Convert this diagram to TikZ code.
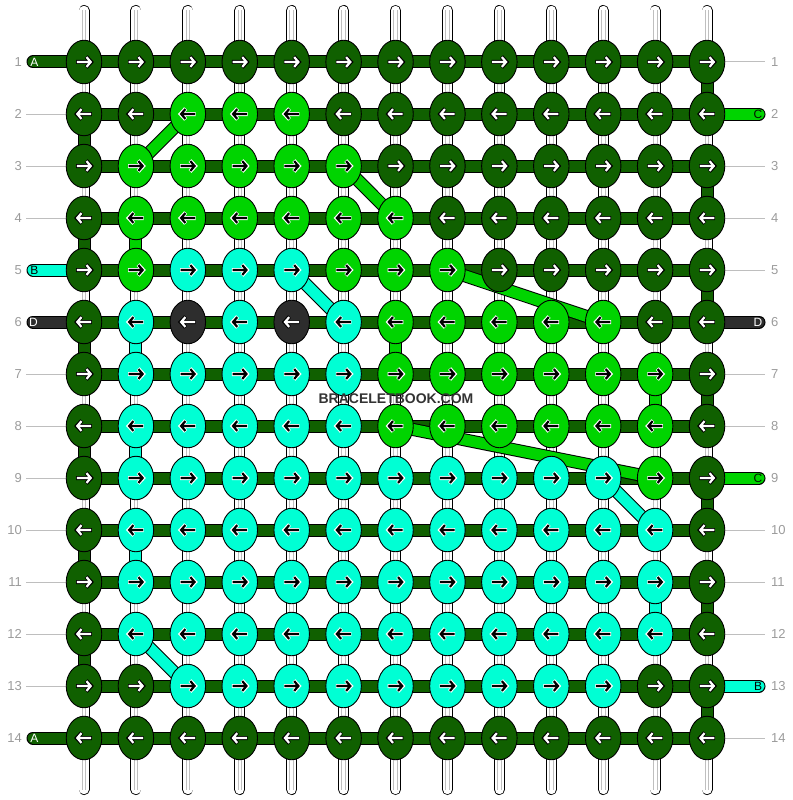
\documentclass[tikz,border=0pt]{standalone}
\usepackage{fontspec}
\setmainfont{Liberation Sans}
\usetikzlibrary{shapes.geometric,calc}
\pgfdeclarelayer{strings}
\pgfdeclarelayer{threads}
\pgfsetlayers{strings,threads,main}
\definecolor{colD}{RGB}{16,96,0}
\definecolor{colG}{RGB}{0,212,0}
\definecolor{colC}{RGB}{0,255,212}
\definecolor{colK}{RGB}{45,45,45}
\colorlet{arrD}{white}\colorlet{arrK}{white}\colorlet{arrG}{black}\colorlet{arrC}{black}
\colorlet{haloD}{black}\colorlet{haloK}{black}\colorlet{haloG}{white}\colorlet{haloC}{white}
\definecolor{numgray}{RGB}{155,155,155}
\definecolor{linegray}{RGB}{190,190,190}
\definecolor{wmgray}{RGB}{51,51,51}
\newcommand\thr[4][]{\draw[line width=13pt,black,#1](#3)--(#4);\draw[line width=11pt,#2,#1](#3)--(#4);}
\tikzset{
  knot/.style={ellipse,draw=black,line width=0.9pt,minimum width=35.5pt,minimum height=43.5pt,inner sep=0pt},
  arrhalo/.style={line width=4pt,line cap=butt,line join=miter},
  arrmain/.style={line width=2.2pt,line cap=butt,line join=miter},
  num/.style={text=numgray,font=\fontsize{13}{13}\selectfont,inner sep=0pt},
  lbl/.style={font=\fontsize{12}{12}\selectfont,inner sep=0pt},
  gline/.style={draw=linegray,line width=1pt}
}
\begin{document}
\begin{tikzpicture}[x=1pt,y=-1pt]
\useasboundingbox (0,0) rectangle (792,800);
% knots
\foreach \rowlist [count=\r] in {
 {D,D,D,D,D,D,D,D,D,D,D,D,D},
 {D,D,G,G,G,D,D,D,D,D,D,D,D},
 {D,G,G,G,G,G,D,D,D,D,D,D,D},
 {D,G,G,G,G,G,G,D,D,D,D,D,D},
 {D,G,C,C,C,G,G,G,D,D,D,D,D},
 {D,C,K,C,K,C,G,G,G,G,G,D,D},
 {D,C,C,C,C,C,G,G,G,G,G,G,D},
 {D,C,C,C,C,C,G,G,G,G,G,G,D},
 {D,C,C,C,C,C,C,C,C,C,C,G,D},
 {D,C,C,C,C,C,C,C,C,C,C,C,D},
 {D,C,C,C,C,C,C,C,C,C,C,C,D},
 {D,C,C,C,C,C,C,C,C,C,C,C,D},
 {D,D,C,C,C,C,C,C,C,C,C,D,D},
 {D,D,D,D,D,D,D,D,D,D,D,D,D}}{
  \pgfmathsetmacro\yy{62+(\r-1)*52}
  \pgfmathsetmacro\dir{1-2*mod(\r+1,2)}
  \foreach \cl [count=\c] in \rowlist {
    \pgfmathsetmacro\xx{84+(\c-1)*51.92}
    \node[knot,fill=col\cl] (k-\r-\c) at (\xx,\yy) {};
    \begin{scope}[shift={(\xx,\yy)},xscale=\dir]
      \draw[arrhalo,draw=halo\cl] (-7.8,0) -- (7.2,0) (2.2,-5.4) -- (7.2,0) -- (2.2,5.4);
      \draw[arrmain,draw=arr\cl] (-7.2,0) -- (6.7,0) (2.5,-4.9) -- (6.7,0) -- (2.5,4.9);
    \end{scope}
  }
  \node[num,anchor=east] (nl-\r) at (22,\yy) {\r};
  \node[num,anchor=west] (nr-\r) at (771,\yy) {\r};
  \coordinate (L-\r) at (33,\yy);
  \coordinate (R-\r) at (759,\yy);
  \coordinate (GL-\r) at (26,\yy);
  \coordinate (GR-\r) at (765,\yy);
}
% strings
\foreach \c in {1,...,13}{
  \pgfmathsetmacro\xx{84+(\c-1)*51.92}
  \coordinate (st-\c) at (\xx,10.5);
  \coordinate (sb-\c) at (\xx,789.5);
}
\begin{pgfonlayer}{strings}
\foreach \c in {1,...,13}{
  \draw[line width=11pt,black,line cap=round] (st-\c) -- (sb-\c);
  \draw[line width=9.4pt,white,line cap=round] (st-\c) -- (sb-\c);
  \draw[line width=0.8pt,black!25] ([xshift=-1.8pt]st-\c) -- ([xshift=-1.8pt]sb-\c);
  \draw[line width=0.8pt,black!25] ([xshift=1.8pt]st-\c) -- ([xshift=1.8pt]sb-\c);
}
\end{pgfonlayer}
\begin{pgfonlayer}{threads}
% gray guide lines
\foreach \r in {2,3,4,7,8,9,10,11,12,13}{\draw[gline] (GL-\r) -- (k-\r-1.west);}
\foreach \r in {1,3,4,5,7,8,10,11,12,14}{\draw[gline] (k-\r-13.east) -- (GR-\r);}
% horizontal bars
\foreach \r in {1,...,14}{\thr{colD}{k-\r-1.center}{k-\r-13.center}}
% end strands
\thr[line cap=round]{colD}{L-1}{k-1-1.center}
\thr[line cap=round]{colC}{L-5}{k-5-1.center}
\thr[line cap=round]{colK}{L-6}{k-6-1.center}
\thr[line cap=round]{colD}{L-14}{k-14-1.center}
\thr[line cap=round]{colG}{k-2-13.center}{R-2}
\thr[line cap=round]{colK}{k-6-13.center}{R-6}
\thr[line cap=round]{colG}{k-9-13.center}{R-9}
\thr[line cap=round]{colC}{k-13-13.center}{R-13}
% vertical segments
\foreach \r in {2,4,6,8,10,12}{\pgfmathtruncatemacro\s{\r+1}\thr{colD}{k-\r-1.center}{k-\s-1.center}}
\foreach \r in {1,3,5,7,9,11,13}{\pgfmathtruncatemacro\s{\r+1}\thr{colD}{k-\r-13.center}{k-\s-13.center}}
\thr{colG}{k-4-2.center}{k-5-2.center}
\thr{colC}{k-6-2.center}{k-7-2.center}
\thr{colC}{k-8-2.center}{k-9-2.center}
\thr{colC}{k-10-2.center}{k-11-2.center}
\thr{colG}{k-6-7.center}{k-7-7.center}
\thr{colG}{k-7-12.center}{k-8-12.center}
\thr{colC}{k-11-12.center}{k-12-12.center}
% diagonals
\thr{colG}{k-2-3.center}{k-3-2.center}
\thr{colG}{k-3-6.center}{k-4-7.center}
\thr{colC}{k-5-5.center}{k-6-6.center}
\thr{colG}{k-5-8.center}{k-6-11.center}
\thr{colG}{k-8-7.center}{k-9-12.center}
\thr{colC}{k-9-11.center}{k-10-12.center}
\thr{colC}{k-12-2.center}{k-13-3.center}
\end{pgfonlayer}
% end labels
\node[lbl,text=white] (la-1) at (34.5,62) {A};
\node[lbl,text=black] (la-5) at (34.5,270) {B};
\node[lbl,text=white] (la-6) at (33.5,322) {D};
\node[lbl,text=white] (la-14) at (34.5,738) {A};
\node[lbl,text=black!80!colD] (ra-2) at (758,114) {C};
\node[lbl,text=white] (ra-6) at (758,322) {D};
\node[lbl,text=black!80!colD] (ra-9) at (758,478) {C};
\node[lbl,text=black] (ra-13) at (758,686) {B};
% watermark
\node[font=\bfseries\fontsize{14}{14}\selectfont,text=wmgray,inner sep=0pt] (wm) at (396,399) {BRACELETBOOK.COM};
\end{tikzpicture}
\end{document}
